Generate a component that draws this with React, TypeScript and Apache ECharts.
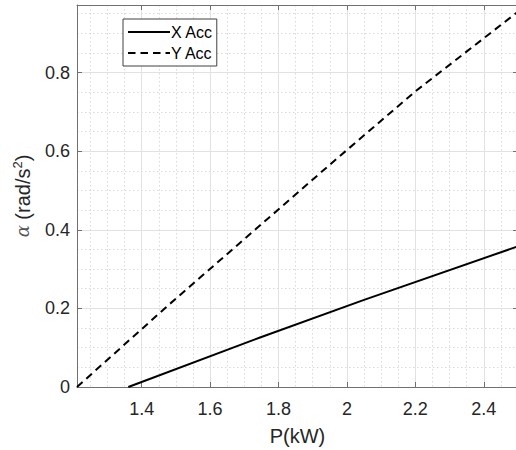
import React, { useEffect, useRef } from "react";
import * as echarts from "echarts";

const xMajorTicks = [1.4, 1.6, 1.8, 2, 2.2, 2.4];
const xMinorTicks = [1.25, 1.3, 1.35, 1.45, 1.5, 1.55, 1.65, 1.7, 1.75, 1.85, 1.9, 1.95, 2.05, 2.1, 2.15, 2.25, 2.3, 2.35, 2.45];
const yMajorTicks = [0, 0.2, 0.4, 0.6, 0.8];
const yMinorTicks = [0.05, 0.1, 0.15, 0.25, 0.3, 0.35, 0.45, 0.5, 0.55, 0.65, 0.7, 0.75, 0.85, 0.9, 0.95];

const seriesNames = ["X Acc", "Y Acc"];
const xAccP = [1.361, 1.746, 2.048, 2.5];
const xAccA = [0, 0.126, 0.221, 0.358];
const yAccP = [1.211, 1.483, 1.965, 2.204, 2.5];
const yAccA = [0, 0.212, 0.577, 0.755, 0.955];

const X_MIN = 1.211;
const X_MAX = 2.5;
const Y_MIN = 0;
const Y_MAX = 0.972;

const FONT = "'Liberation Sans', Arial, sans-serif";
const TXT = "#262626";
const AXIS = "#707070";

export default function App() {
  const ref = useRef<HTMLDivElement>(null);
  useEffect(() => {
    if (!ref.current) return;
    const chart = echarts.init(ref.current, null, { renderer: "svg" });
    const hidden = {
      axisLine: { show: false },
      axisTick: { show: false },
      axisLabel: { show: false },
    };
    chart.setOption({
      animation: false,
      backgroundColor: "#ffffff",
      grid: { left: 77, top: 5, right: -2, bottom: 63, outerBoundsMode: "none" },
      legend: {
        orient: "vertical",
        left: 123,
        top: 19,
        data: seriesNames,
        itemWidth: 42,
        itemHeight: 16,
        itemGap: 5,
        padding: [5, 4, 5, 4],
        borderColor: "#404040",
        borderWidth: 1,
        backgroundColor: "#ffffff",
        itemStyle: { opacity: 0, borderWidth: 0 },
        textStyle: { fontFamily: FONT, fontSize: 16, color: "#000", padding: [0, 0, 0, -4] },
      },
      xAxis: [
        {
          type: "value",
          position: "bottom",
          min: X_MIN,
          max: X_MAX,
          name: "P(kW)",
          nameLocation: "middle",
          nameGap: 39,
          nameTextStyle: { fontFamily: FONT, fontSize: 20, color: TXT },
          axisLine: { show: true, lineStyle: { color: AXIS, width: 1 } },
          axisTick: { show: true, inside: true, length: 5, customValues: xMajorTicks, lineStyle: { color: AXIS } },
          axisLabel: { customValues: xMajorTicks, margin: 13, fontFamily: FONT, fontSize: 18, color: TXT },
          splitLine: { show: true, lineStyle: { color: "#e2e2e2", width: 1 } },
        },
        {
          type: "value",
          position: "top",
          min: X_MIN,
          max: X_MAX,
          axisLine: { show: true, onZero: false, lineStyle: { color: AXIS, width: 1 } },
          axisTick: { show: true, inside: true, length: 5, customValues: xMajorTicks, lineStyle: { color: AXIS } },
          axisLabel: { show: false },
          splitLine: { show: false },
        },
        {
          type: "value",
          position: "bottom",
          min: X_MIN,
          max: X_MAX,
          ...hidden,
          axisTick: { show: false, customValues: xMinorTicks },
          splitLine: { show: true, lineStyle: { color: "#dadada", width: 1, type: [1.5, 2.5] } },
        },
      ],
      yAxis: [
        {
          type: "value",
          position: "left",
          min: Y_MIN,
          max: Y_MAX,
          name: "{a|α} (rad/s{s|2})",
          nameLocation: "middle",
          nameGap: 43,
          nameTextStyle: {
            fontFamily: FONT,
            fontSize: 20,
            color: TXT,
            rich: {
              a: { fontFamily: "'DejaVu Serif', 'Liberation Serif', serif", fontStyle: "italic", fontSize: 18, color: "#555" },
              s: { fontFamily: FONT, fontSize: 13, color: TXT, verticalAlign: "top", padding: [0, 0, 10, 0] },
            },
          },
          axisLine: { show: true, onZero: false, lineStyle: { color: AXIS, width: 1 } },
          axisTick: { show: true, inside: true, length: 5, customValues: yMajorTicks, lineStyle: { color: AXIS } },
          axisLabel: { customValues: yMajorTicks, margin: 7, fontFamily: FONT, fontSize: 18, color: TXT },
          splitLine: { show: true, lineStyle: { color: "#e2e2e2", width: 1 } },
        },
        {
          type: "value",
          position: "right",
          min: Y_MIN,
          max: Y_MAX,
          axisLine: { show: true, onZero: false, lineStyle: { color: AXIS, width: 1 } },
          axisTick: { show: true, inside: true, length: 5, customValues: yMajorTicks, lineStyle: { color: AXIS } },
          axisLabel: { show: false },
          splitLine: { show: false },
        },
        {
          type: "value",
          position: "left",
          min: Y_MIN,
          max: Y_MAX,
          ...hidden,
          axisTick: { show: false, customValues: yMinorTicks },
          splitLine: { show: true, lineStyle: { color: "#dadada", width: 1, type: [1.5, 2.5] } },
        },
      ],
      series: [
        {
          name: seriesNames[0],
          type: "line",
          xAxisIndex: 0,
          yAxisIndex: 0,
          symbol: "none",
          clip: true,
          data: xAccP.map((p, i) => [p, xAccA[i]]),
          lineStyle: { color: "#000", width: 2, type: "solid" },
          itemStyle: { color: "#000" },
        },
        {
          name: seriesNames[1],
          type: "line",
          xAxisIndex: 0,
          yAxisIndex: 0,
          symbol: "none",
          clip: true,
          data: yAccP.map((p, i) => [p, yAccA[i]]),
          lineStyle: { color: "#000", width: 2, type: [7.5, 5] },
          itemStyle: { color: "#000" },
        },
      ],
    });
    return () => chart.dispose();
  }, []);
  return <div ref={ref} style={{ width: 516, height: 450, position: "absolute", left: 0, top: 0 }} />;
}
